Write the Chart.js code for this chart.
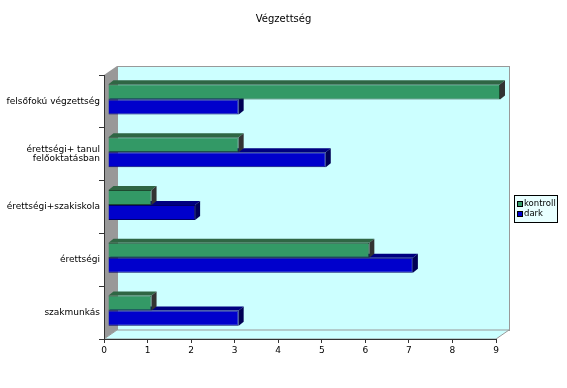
<!DOCTYPE html>
<html>
<head>
<meta charset="utf-8">
<script src="https://cdn.jsdelivr.net/npm/chart.js@4.4.0/dist/chart.umd.min.js"></script>
<style>
  body { margin: 0; background: #fff; }
</style>
</head>
<body>
<canvas id="vegzettsegChart" width="567" height="388"></canvas>
<script>
// categories, top to bottom
var categories = [
    'felsőfokú végzettség',
    ['érettségi+ tanul', 'felőoktatásban'],
    'érettségi+szakiskola',
    'érettségi',
    'szakmunkás'
];
var kontroll = [9, 3, 1, 6, 1];
var dark = [3, 5, 2, 7, 3];
var xTicks = [0, 1, 2, 3, 4, 5, 6, 7, 8, 9];
var title = 'Végzettség';

var FONT = 'DejaVu Sans';
var WALL = { dx: 13, dy: -9 };   // depth of the walls
var BAR = { dx: 5, dy: -4 };     // depth of the bars
var SHIFT = { x: 4, y: -2 };     // bars sit a bit inside the box

// side/top colours for the fake 3d bars
var faces = {
    kontroll: { top: '#2f6644', end: '#333333' },
    dark: { top: '#000080', end: '#000055' }
};

var depth3d = {
    id: 'depth3d',
    beforeDraw: function (chart) {
        var ctx = chart.ctx, a = chart.chartArea;
        ctx.save();
        ctx.lineWidth = 1;
        ctx.strokeStyle = '#999999';
        // back wall
        ctx.fillStyle = '#ccffff';
        ctx.fillRect(a.left + WALL.dx, a.top + WALL.dy, a.right - a.left, a.bottom - a.top);
        ctx.strokeRect(a.left + WALL.dx + 0.5, a.top + WALL.dy + 0.5, a.right - a.left, a.bottom - a.top);
        // left wall
        ctx.fillStyle = '#999999';
        ctx.beginPath();
        ctx.moveTo(a.left, a.top);
        ctx.lineTo(a.left + WALL.dx, a.top + WALL.dy);
        ctx.lineTo(a.left + WALL.dx, a.bottom + WALL.dy);
        ctx.lineTo(a.left, a.bottom);
        ctx.closePath();
        ctx.fill();
        // floor
        ctx.fillStyle = '#ccffff';
        ctx.beginPath();
        ctx.moveTo(a.left, a.bottom);
        ctx.lineTo(a.left + WALL.dx, a.bottom + WALL.dy);
        ctx.lineTo(a.right + WALL.dx, a.bottom + WALL.dy);
        ctx.lineTo(a.right, a.bottom);
        ctx.closePath();
        ctx.fill();
        ctx.stroke();
        ctx.restore();
    },
    beforeDatasetDraw: function (chart) {
        chart.ctx.save();
        chart.ctx.translate(SHIFT.x, SHIFT.y);
    },
    afterDatasetDraw: function (chart, args) {
        var ctx = chart.ctx;
        var ds = chart.data.datasets[args.index];
        var f = faces[ds.label];
        args.meta.data.forEach(function (el) {
            var p = el.getProps(['x', 'y', 'base', 'height'], true);
            var t = p.y - p.height / 2, b = p.y + p.height / 2;
            ctx.fillStyle = f.top;
            ctx.beginPath();
            ctx.moveTo(p.base, t);
            ctx.lineTo(p.base + BAR.dx, t + BAR.dy);
            ctx.lineTo(p.x + BAR.dx, t + BAR.dy);
            ctx.lineTo(p.x, t);
            ctx.closePath();
            ctx.fill();
            ctx.fillStyle = f.end;
            ctx.beginPath();
            ctx.moveTo(p.x, t);
            ctx.lineTo(p.x + BAR.dx, t + BAR.dy);
            ctx.lineTo(p.x + BAR.dx, b + BAR.dy);
            ctx.lineTo(p.x, b);
            ctx.closePath();
            ctx.fill();
        });
        ctx.restore();
    },
    afterDraw: function (chart) {
        var ctx = chart.ctx;
        ctx.save();
        // title, centred on the whole picture
        ctx.fillStyle = '#000';
        ctx.font = '10px "' + FONT + '"';
        ctx.textAlign = 'center';
        ctx.textBaseline = 'middle';
        ctx.fillText(title, chart.width / 2, 19);
        // small boxed legend at the right
        ctx.textAlign = 'left';
        ctx.fillStyle = '#e8ffff';
        ctx.fillRect(514, 195, 43, 27);
        ctx.strokeStyle = '#000';
        ctx.lineWidth = 1;
        ctx.strokeRect(514.5, 195.5, 43, 27);
        ctx.font = '8.5px "' + FONT + '"';
        chart.data.datasets.forEach(function (ds, i) {
            var y = 204 + i * 10;
            ctx.fillStyle = ds.backgroundColor;
            ctx.fillRect(517, y - 3, 6, 6);
            ctx.strokeStyle = '#000';
            ctx.strokeRect(517.5, y - 2.5, 5, 5);
            ctx.fillStyle = '#000';
            ctx.fillText(ds.label, 524, y);
        });
        ctx.restore();
    }
};

var ctx = document.getElementById('vegzettsegChart').getContext('2d');
var chart = new Chart(ctx, {
    type: 'bar',
    data: {
        labels: categories,
        datasets: [{
            label: 'kontroll',
            data: kontroll,
            backgroundColor: '#339966',
            borderColor: '#1d4a30',
            borderWidth: 1,
            order: 0,
            clip: false
        }, {
            label: 'dark',
            data: dark,
            backgroundColor: '#0000cc',
            borderColor: '#000066',
            borderWidth: 1,
            order: 1,
            clip: false
        }]
    },
    options: {
        indexAxis: 'y',
        responsive: false,
        animation: false,
        events: [],
        layout: { padding: { left: 0, right: 71, top: 75, bottom: 0 } },
        datasets: {
            bar: { barPercentage: 1, categoryPercentage: 0.57 }
        },
        plugins: {
            legend: { display: false },
            tooltip: { enabled: false },
            title: { display: false }
        },
        scales: {
            x: {
                min: 0,
                max: 9,
                afterBuildTicks: function (s) {
                    s.ticks = xTicks.map(function (v) { return { value: v }; });
                },
                ticks: { color: '#000', font: { family: FONT, size: 9 }, padding: 2 },
                grid: { drawOnChartArea: false, tickLength: 4, color: '#333' },
                border: { color: '#333' },
                afterFit: function (s) { s.height = 49; }
            },
            y: {
                ticks: { color: '#000', font: { family: FONT, size: 9, lineHeight: 1.1 }, padding: -1 },
                grid: { offset: true, drawOnChartArea: false, tickLength: 5, color: '#333' },
                border: { color: '#333' },
                afterFit: function (s) { s.width = 104; }
            }
        }
    },
    plugins: [depth3d]
});
</script>
</body>
</html>
